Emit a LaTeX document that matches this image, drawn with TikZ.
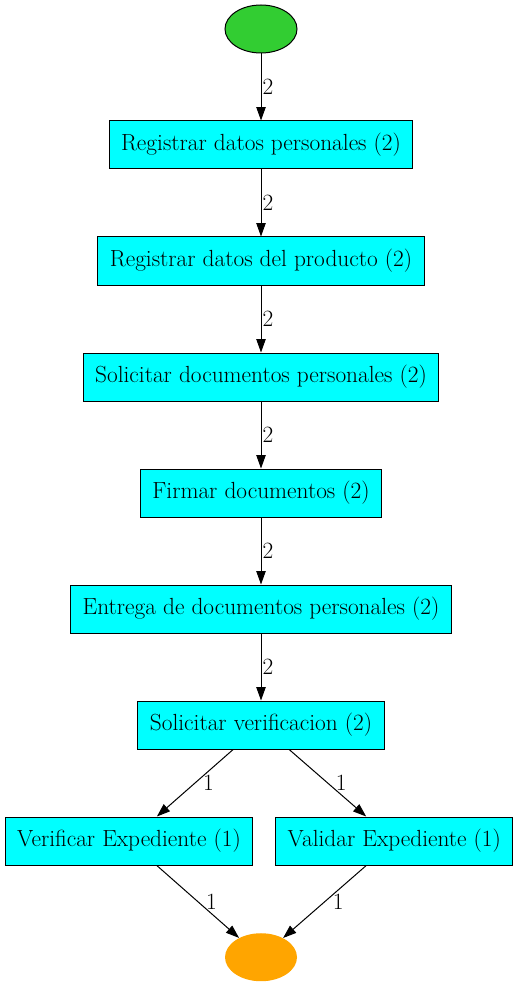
\documentclass[tikz,border=0pt]{standalone}
\usepackage{tikz}
\usetikzlibrary{positioning,shapes.geometric,arrows.meta}
\definecolor{verdelima}{RGB}{50,205,50}
\definecolor{naranja}{RGB}{255,165,0}
\definecolor{cian}{RGB}{0,255,255}

\begin{document}
\begin{tikzpicture} [
	text centered,
	node distance=50.25pt,
	font=\fontsize{17.5}{20}\selectfont,
	ninicio/.style={
		ellipse,minimum width=54pt,minimum height=36pt,
		draw=black,line width=0.75pt,fill=verdelima
	},
	nfin/.style={
		ellipse,minimum width=54pt,minimum height=36pt,
		fill=naranja
	},
	nact/.style={
		rectangle,minimum height=36pt,inner xsep=9pt,
		draw=black,line width=0.75pt,fill=cian
	},
	flecha/.style={{Triangle[length=10pt,width=7pt]}-,line width=0.75pt},
	netq/.style={anchor=west,inner sep=0.75pt}
]
\useasboundingbox (0,0) rectangle (387.75pt,-740.25pt);
\node [ninicio]	(inicio) at (195.75pt,-21.75pt)	{};
\node [nact]	(personales)[below=of inicio]	{Registrar datos personales (2)}
	edge [flecha]	node [netq] {2} (inicio);
\node [nact]	(producto)[below=of personales]	{Registrar datos del producto (2)}
	edge [flecha]	node [netq] {2} (personales);
\node [nact]	(solicitar)[below=of producto]	{Solicitar documentos personales (2)}
	edge [flecha]	node [netq] {2} (producto);
\node [nact]	(firmar)[below=of solicitar]	{Firmar documentos (2)}
	edge [flecha]	node [netq] {2} (solicitar);
\node [nact]	(entrega)[below=of firmar]	{Entrega de documentos personales (2)}
	edge [flecha]	node [netq] {2} (firmar);
\node [nact]	(verif)[below=of entrega]	{Solicitar verificacion (2)}
	edge [flecha]	node [netq] {2} (entrega);
\node [nact]	(verificar)[below=of verif,xshift=-99pt]	{Verificar Expediente (1)}
	edge [flecha]	node [netq,xshift=5pt] {1} (verif);
\node [nact]	(validar)[below=of verif,xshift=100pt]	{Validar Expediente (1)}
	edge [flecha]	node [netq,xshift=5pt] {1} (verif);
\node [nfin]	(fin)[below=137.6pt of verif]	{}
	edge [flecha]	node [netq,xshift=5pt] {1} (verificar)
	edge [flecha]	node [netq,xshift=5pt] {1} (validar);
\end{tikzpicture}
\end{document}
